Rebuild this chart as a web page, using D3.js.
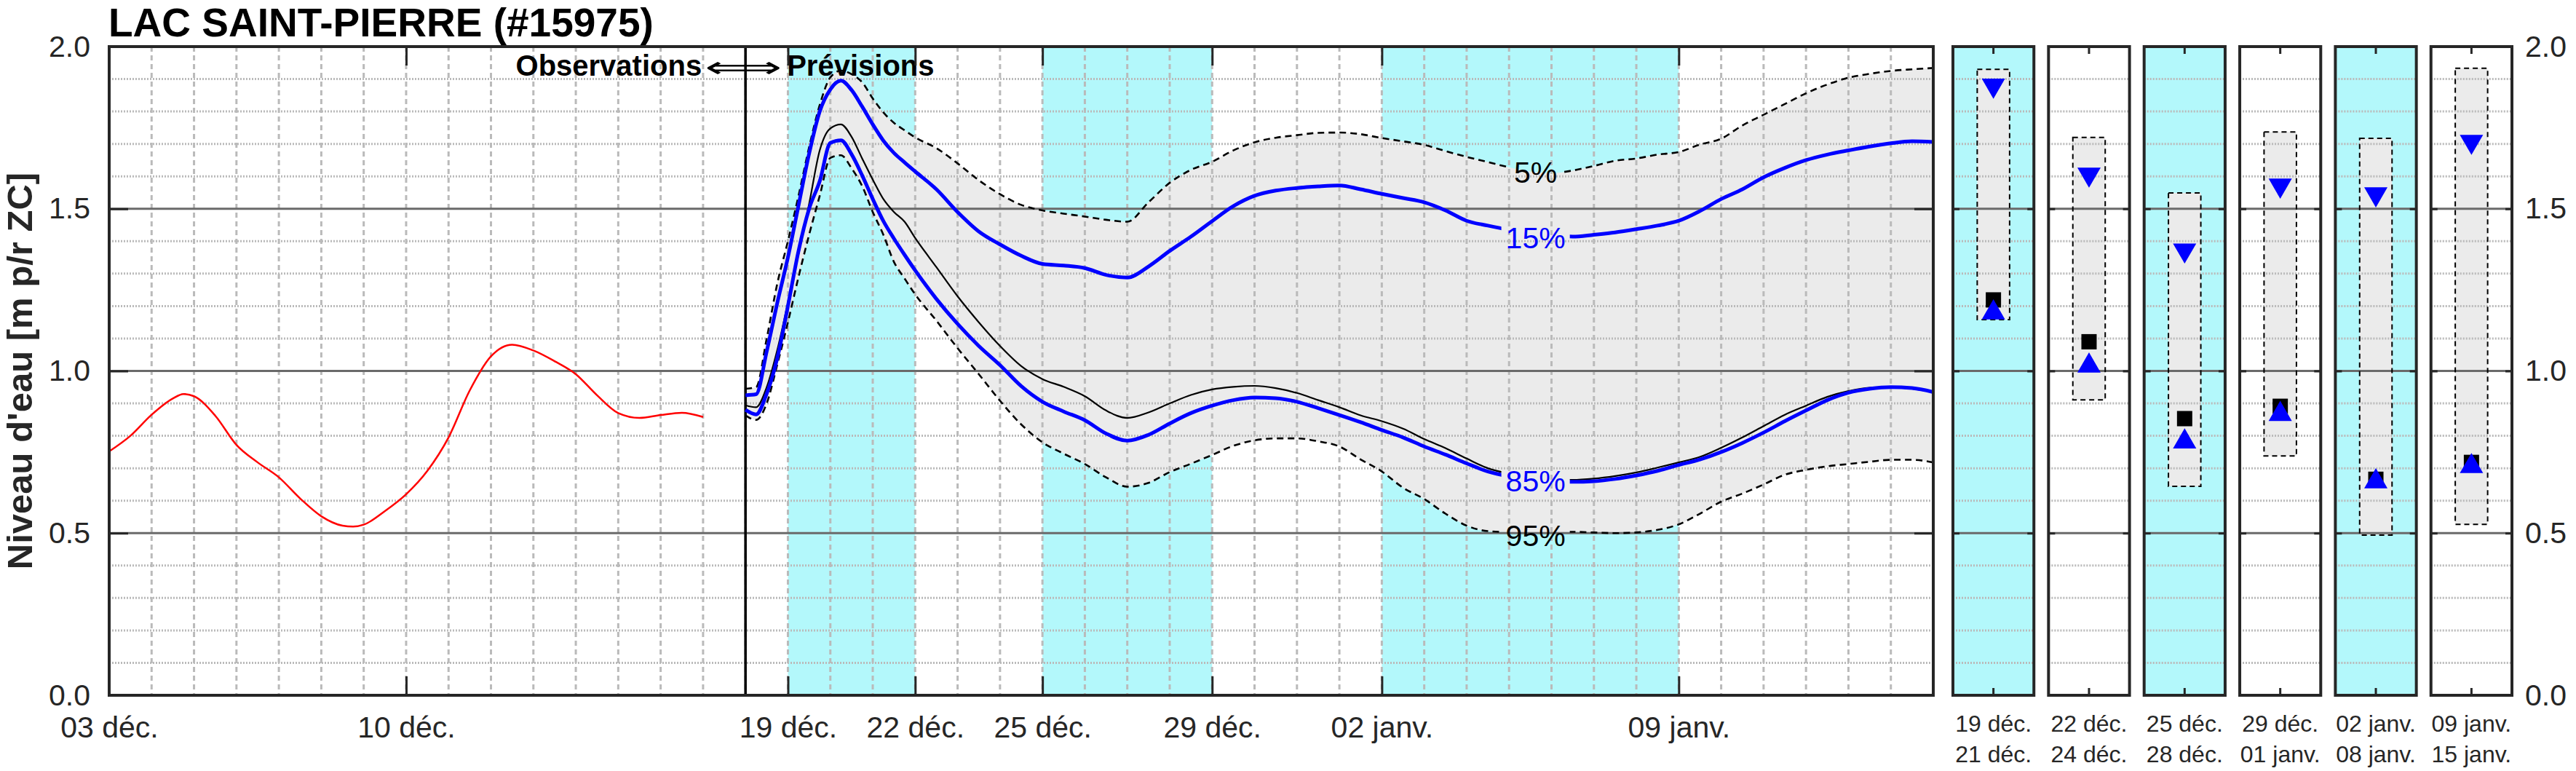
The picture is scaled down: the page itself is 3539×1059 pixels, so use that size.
<!DOCTYPE html>
<html>
<head>
<meta charset="utf-8">
<script src="https://cdn.jsdelivr.net/npm/d3@7/dist/d3.min.js"></script>
<style>
html,body{margin:0;padding:0;background:#fff;}
svg{display:block;font-family:"Liberation Sans",Arial,Helvetica,sans-serif;}
</style>
</head>
<body>
<svg id="chart" width="3539" height="1059"></svg>
<script>
// ---------------- DATA ----------------
const chartTitle = "LAC SAINT-PIERRE (#15975)";
const yAxisTitle = "Niveau d'eau [m p/r ZC]";
const obsLabel = "Observations";
const fcstLabel = "Prévisions";
const arrowGlyph = "⟺";

const obsTimes = ["2023-12-03T00","2023-12-03T12","2023-12-04T00","2023-12-04T12","2023-12-04T18",
  "2023-12-05T00","2023-12-05T12","2023-12-06T00","2023-12-06T12","2023-12-07T00","2023-12-07T12",
  "2023-12-08T00","2023-12-08T12","2023-12-08T18","2023-12-09T00","2023-12-09T12","2023-12-10T00",
  "2023-12-10T12","2023-12-11T00","2023-12-11T12","2023-12-12T00","2023-12-12T12","2023-12-13T00",
  "2023-12-13T12","2023-12-14T00","2023-12-14T12","2023-12-15T00","2023-12-15T12","2023-12-16T00",
  "2023-12-16T12","2023-12-17T00"];
const obsLevels = [0.752,0.800,0.865,0.915,0.929,
  0.922,0.862,0.772,0.718,0.672,0.607,
  0.552,0.523,0.520,0.526,0.568,0.620,
  0.692,0.795,0.940,1.045,1.081,1.063,
  1.030,0.990,0.925,0.870,0.855,0.864,
  0.871,0.858];

const forecastStart = "2023-12-18T00";
const fcTimes = ["2023-12-18T00","2023-12-18T06","2023-12-18T12","2023-12-18T18",
  "2023-12-19T00","2023-12-19T06","2023-12-19T12","2023-12-19T18",
  "2023-12-20T00","2023-12-20T06","2023-12-20T12","2023-12-20T18",
  "2023-12-21T00","2023-12-21T06","2023-12-21T12","2023-12-21T18",
  "2023-12-22T00","2023-12-22T12","2023-12-23T00","2023-12-23T12","2023-12-24T00","2023-12-24T12",
  "2023-12-25T00","2023-12-25T12","2023-12-26T00","2023-12-26T12","2023-12-27T00","2023-12-27T12",
  "2023-12-28T00","2023-12-28T12","2023-12-29T00","2023-12-29T12","2023-12-30T00","2023-12-30T12",
  "2023-12-31T00","2023-12-31T12","2024-01-01T00","2024-01-01T12","2024-01-02T00","2024-01-02T12",
  "2024-01-03T00","2024-01-03T12","2024-01-04T00","2024-01-04T12","2024-01-05T00","2024-01-05T12",
  "2024-01-06T00","2024-01-06T12","2024-01-07T00","2024-01-07T12","2024-01-08T00","2024-01-08T12",
  "2024-01-09T00","2024-01-09T12","2024-01-10T00","2024-01-10T12","2024-01-11T00","2024-01-11T12",
  "2024-01-12T00","2024-01-12T12","2024-01-13T00","2024-01-13T12","2024-01-14T00","2024-01-14T12",
  "2024-01-15T00"];
const q05 = [0.945,0.950,1.100,1.270, 1.400,1.540,1.690,1.820, 1.905,1.926,1.915,1.890, 1.840,1.797,1.765,1.742,
  1.720,1.687,1.640,1.588,1.545,1.512,1.495,1.485,1.476,1.466,1.460,1.520,1.580,1.620,1.645,1.680,
  1.705,1.719,1.727,1.734,1.735,1.730,1.718,1.708,1.697,1.678,1.660,1.644,1.628,1.615,1.610,1.618,
  1.632,1.648,1.655,1.667,1.675,1.698,1.716,1.757,1.790,1.823,1.856,1.883,1.904,1.916,1.925,1.930,1.934];
const q15 = [0.925,0.928,1.060,1.210, 1.350,1.510,1.670,1.800, 1.868,1.895,1.866,1.815, 1.760,1.710,1.672,1.643,
  1.615,1.560,1.490,1.430,1.390,1.355,1.330,1.325,1.317,1.296,1.288,1.322,1.370,1.414,1.462,1.508,
  1.540,1.556,1.564,1.569,1.572,1.560,1.546,1.533,1.520,1.495,1.463,1.448,1.435,1.425,1.418,1.414,
  1.420,1.427,1.437,1.448,1.463,1.493,1.530,1.560,1.597,1.626,1.650,1.667,1.680,1.692,1.702,1.708,1.706];
const q50 = [0.894,0.888,0.950,1.065, 1.210,1.360,1.515,1.680, 1.748,1.760,1.722,1.655, 1.590,1.530,1.490,1.460,
  1.410,1.320,1.230,1.150,1.077,1.015,0.975,0.951,0.922,0.878,0.855,0.872,0.900,0.926,0.943,0.951,
  0.954,0.947,0.932,0.910,0.888,0.863,0.845,0.822,0.790,0.762,0.730,0.700,0.683,0.670,0.665,0.664,
  0.668,0.676,0.687,0.702,0.718,0.735,0.763,0.795,0.830,0.865,0.893,0.920,0.938,0.948,0.950,0.945,0.935];
const q85 = [0.880,0.866,0.930,1.040, 1.200,1.370,1.500,1.585, 1.703,1.711,1.668,1.603, 1.530,1.462,1.408,1.358,
  1.310,1.222,1.145,1.077,1.018,0.953,0.905,0.875,0.848,0.807,0.785,0.803,0.838,0.870,0.893,0.910,
  0.918,0.916,0.905,0.885,0.864,0.842,0.818,0.795,0.767,0.742,0.715,0.690,0.675,0.665,0.660,0.658,
  0.660,0.667,0.678,0.692,0.710,0.727,0.750,0.778,0.810,0.845,0.878,0.910,0.933,0.945,0.950,0.947,0.935];
const q95 = [0.863,0.849,0.900,1.020, 1.150,1.290,1.420,1.540, 1.657,1.665,1.625,1.570, 1.490,1.420,1.336,1.285,
  1.236,1.155,1.070,0.990,0.908,0.835,0.780,0.745,0.713,0.672,0.643,0.655,0.688,0.714,0.741,0.769,
  0.786,0.792,0.792,0.783,0.767,0.727,0.690,0.640,0.605,0.560,0.523,0.506,0.503,0.502,0.502,0.504,
  0.502,0.500,0.502,0.510,0.527,0.560,0.597,0.622,0.650,0.680,0.695,0.706,0.713,0.720,0.726,0.726,0.718];

const pctLabels = ["5%", "15%", "85%", "95%"];
const pctLabelValues = [1.614, 1.412, 0.662, 0.494];
const pctLabelColors = ["#000000", "#0000ff", "#0000ff", "#000000"];
const pctLabelTime = "2024-01-05T15";

const shadedStarts = ["2023-12-19T00", "2023-12-25T00", "2024-01-02T00"];
const shadedEnds   = ["2023-12-22T00", "2023-12-29T00", "2024-01-09T00"];

const xTickTimes = ["2023-12-03T00","2023-12-10T00","2023-12-19T00","2023-12-22T00",
  "2023-12-25T00","2023-12-29T00","2024-01-02T00","2024-01-09T00"];
const xTickLabels = ["03 déc.","10 déc.","19 déc.","22 déc.","25 déc.","29 déc.","02 janv.","09 janv."];
const yTickValues = [0, 0.5, 1.0, 1.5, 2.0];
const yMajorGrid = [0.5, 1.0, 1.5];
const yMinorGrid = [0.1,0.2,0.3,0.4,0.6,0.7,0.8,0.9,1.1,1.2,1.3,1.4,1.6,1.7,1.8,1.9];

const periodFrom = ["19 déc.","22 déc.","25 déc.","29 déc.","02 janv.","09 janv."];
const periodTo   = ["21 déc.","24 déc.","28 déc.","01 janv.","08 janv.","15 janv."];
const periodShaded = [true,false,true,false,true,false];
const periodQ05 = [1.930, 1.720, 1.549, 1.737, 1.717, 1.933];
const periodQ95 = [1.158, 0.911, 0.644, 0.738, 0.494, 0.527];
const periodQ15 = [1.870, 1.596, 1.362, 1.562, 1.535, 1.697];
const periodQ50 = [1.219, 1.090, 0.853, 0.891, 0.666, 0.718];
const periodQ85 = [1.190, 1.026, 0.792, 0.877, 0.669, 0.716];

// ---------------- LAYOUT / STYLE ----------------
const W = 3539, H = 1059;
const M = {left:150, right:2656, top:64, bottom:955};
const P = {left:2683, right:3451};
const CYAN = "#b3f8fb", FILL = "#ebebeb", AX = "#262626";
const GRID = "#bababa", MAJ = "#6a6a6a", BLUE = "#0000ff";
const FS_TICK = 41;

const parse = d3.timeParse("%Y-%m-%dT%H");
const svg = d3.select("#chart");

const x = d3.scaleTime()
  .domain([parse("2023-12-03T00"), parse("2024-01-15T00")])
  .range([M.left, M.right]);
const y = d3.scaleLinear().domain([0, 2]).range([M.bottom, M.top]);

const defs = svg.append("defs");
defs.append("clipPath").attr("id","mainClip").append("rect")
  .attr("x", M.left).attr("y", M.top).attr("width", M.right-M.left).attr("height", M.bottom-M.top);
const mask = defs.append("mask").attr("id","lblMask").attr("maskUnits","userSpaceOnUse")
  .attr("x",0).attr("y",0).attr("width",W).attr("height",H);
mask.append("rect").attr("x",0).attr("y",0).attr("width",W).attr("height",H).attr("fill","#fff");

// ---------- MAIN PLOT ----------
const main = svg.append("g").attr("clip-path","url(#mainClip)");

// cyan bands
main.selectAll("rect.band").data(shadedStarts).join("rect")
  .attr("x", (d)=>x(parse(d)))
  .attr("width", (d,i)=>x(parse(shadedEnds[i]))-x(parse(d)))
  .attr("y", M.top).attr("height", M.bottom-M.top).attr("fill", CYAN);

// forecast data rows
const fc = fcTimes.map((t,i)=>({t:parse(t), q05:q05[i], q15:q15[i], q50:q50[i], q85:q85[i], q95:q95[i]}));

// grey envelope
main.append("path").datum(fc)
  .attr("d", d3.area().curve(d3.curveMonotoneX)
    .x(d=>x(d.t)).y0(d=>y(d.q95)).y1(d=>y(d.q05)))
  .attr("fill", FILL);

// grid: minor horizontal dotted
main.selectAll("line.hmin").data(yMinorGrid).join("line")
  .attr("x1", M.left).attr("x2", M.right).attr("y1", d=>y(d)).attr("y2", d=>y(d))
  .attr("stroke", GRID).attr("stroke-width", 3).attr("stroke-dasharray","2,2");
// grid: daily vertical dashed
const days = d3.timeDay.range(parse("2023-12-04T00"), parse("2024-01-15T00"));
main.selectAll("line.vmin").data(days).join("line")
  .attr("x1", d=>x(d)).attr("x2", d=>x(d)).attr("y1", M.top).attr("y2", M.bottom)
  .attr("stroke", GRID).attr("stroke-width", 3).attr("stroke-dasharray","7,5");
// grid: major horizontal
main.selectAll("line.hmaj").data(yMajorGrid).join("line")
  .attr("x1", M.left).attr("x2", M.right).attr("y1", d=>y(d)).attr("y2", d=>y(d))
  .attr("stroke", MAJ).attr("stroke-width", 3);

// observations
const obs = obsTimes.map((t,i)=>({t:parse(t), v:obsLevels[i]}));
main.append("path").datum(obs)
  .attr("d", d3.line().curve(d3.curveMonotoneX).x(d=>x(d.t)).y(d=>y(d.v)))
  .attr("fill","none").attr("stroke","#ff0000").attr("stroke-width",2.5);

// separator
main.append("line")
  .attr("x1", x(parse(forecastStart))).attr("x2", x(parse(forecastStart)))
  .attr("y1", M.top).attr("y2", M.bottom).attr("stroke", "#000").attr("stroke-width", 3.5);

// forecast lines (masked around labels)
const lines = main.append("g").attr("mask","url(#lblMask)");
const lineGen = key => d3.line().curve(d3.curveMonotoneX).x(d=>x(d.t)).y(d=>y(d[key]));
[["q05","#000",2.6,"9,6"],["q95","#000",2.6,"9,6"],["q50","#000",2.2,null],
 ["q85",BLUE,5,null],["q15",BLUE,5,null]].forEach(([k,c,w,da])=>{
  const p = lines.append("path").datum(fc).attr("d", lineGen(k))
    .attr("fill","none").attr("stroke",c).attr("stroke-width",w).attr("stroke-linejoin","round");
  if (da) p.attr("stroke-dasharray", da);
});

// percentile labels
const lblG = svg.append("g");
pctLabels.forEach((s,i)=>{
  const t = lblG.append("text")
    .attr("x", x(parse(pctLabelTime))).attr("y", y(pctLabelValues[i]))
    .attr("dy","0.36em").attr("text-anchor","middle")
    .attr("font-size", 41).attr("fill", pctLabelColors[i]).text(s);
  const b = t.node().getBBox();
  mask.append("rect").attr("x", b.x-6).attr("y", b.y+2).attr("width", b.width+12).attr("height", b.height-4).attr("fill","#000");
});

// Observations <=> Prévisions
const xs = x(parse(forecastStart));
svg.append("text").attr("x", xs-60).attr("y", 104).attr("text-anchor","end")
  .attr("font-size",40).attr("font-weight","bold").attr("fill","#000").text(obsLabel);
svg.append("text").attr("x", xs+57).attr("y", 104).attr("text-anchor","start")
  .attr("font-size",40).attr("font-weight","bold").attr("fill","#000").text(fcstLabel);
svg.append("text").attr("x", xs-56).attr("y", 106)
  .attr("textLength", 106).attr("lengthAdjust","spacingAndGlyphs")
  .attr("font-family","DejaVu Sans").attr("font-size",40).attr("fill","#000").text(arrowGlyph);

// axes main
function styleAxis(g){
  g.select(".domain").remove();
  g.selectAll(".tick line").attr("stroke", AX).attr("stroke-width", 3);
  g.selectAll(".tick text").attr("fill", AX).attr("font-size", FS_TICK)
    .attr("font-family", "'Liberation Sans',Arial,sans-serif");
}
const tickDates = xTickTimes.map(parse);
svg.append("g").attr("transform",`translate(0,${M.bottom})`)
  .call(d3.axisBottom(x).tickValues(tickDates).tickFormat((d,i)=>xTickLabels[i])
    .tickSizeInner(-26).tickSizeOuter(0).tickPadding(29)).call(styleAxis);
svg.append("g").attr("transform",`translate(0,${M.top})`)
  .call(d3.axisTop(x).tickValues(tickDates).tickFormat("")
    .tickSizeInner(-26).tickSizeOuter(0)).call(styleAxis);
svg.append("g").attr("transform",`translate(${M.left},0)`)
  .call(d3.axisLeft(y).tickValues(yTickValues).tickFormat(d3.format(".1f"))
    .tickSizeInner(-26).tickSizeOuter(0).tickPadding(26)).call(styleAxis);
svg.append("g").attr("transform",`translate(${M.right},0)`)
  .call(d3.axisRight(y).tickValues(yTickValues).tickFormat("")
    .tickSizeInner(-26).tickSizeOuter(0)).call(styleAxis);
svg.append("rect").attr("x", M.left).attr("y", M.top)
  .attr("width", M.right-M.left).attr("height", M.bottom-M.top)
  .attr("fill","none").attr("stroke", AX).attr("stroke-width", 4);

// ---------- SMALL PANELS ----------
const band = d3.scaleBand().domain(d3.range(periodFrom.length))
  .range([P.left, P.right]).paddingInner(0.153).paddingOuter(0);
const bw = band.bandwidth();
const boxW = bw*0.4;

periodFrom.forEach((lab,i)=>{
  const g = svg.append("g");
  const x0 = band(i), cx = x0 + bw/2;
  g.append("rect").attr("x",x0).attr("y",M.top).attr("width",bw).attr("height",M.bottom-M.top)
    .attr("fill", periodShaded[i] ? CYAN : "#fff");
  // box 5%-95%
  g.append("rect").attr("x", cx-boxW/2).attr("width", boxW)
    .attr("y", y(periodQ05[i])).attr("height", y(periodQ95[i])-y(periodQ05[i]))
    .attr("fill", FILL);
  // grid
  g.selectAll("line.hmin").data(yMinorGrid).join("line")
    .attr("x1", x0).attr("x2", x0+bw).attr("y1", d=>y(d)).attr("y2", d=>y(d))
    .attr("stroke", GRID).attr("stroke-width", 3).attr("stroke-dasharray","2,2");
  g.selectAll("line.hmaj").data(yMajorGrid).join("line")
    .attr("x1", x0).attr("x2", x0+bw).attr("y1", d=>y(d)).attr("y2", d=>y(d))
    .attr("stroke", MAJ).attr("stroke-width", 3);
  g.append("rect").attr("x", cx-boxW/2).attr("width", boxW)
    .attr("y", y(periodQ05[i])).attr("height", y(periodQ95[i])-y(periodQ05[i]))
    .attr("fill", "none").attr("stroke","#000").attr("stroke-width",2).attr("stroke-dasharray","7,5");
  // markers
  const triSize = 443, triOff = 4.6;
  g.append("path").attr("d", d3.symbol(d3.symbolTriangle, triSize)())
    .attr("transform", `translate(${cx},${y(periodQ15[i]) - triOff}) rotate(180)`).attr("fill", BLUE);
  g.append("path").attr("d", d3.symbol(d3.symbolSquare, 441)())
    .attr("transform", `translate(${cx},${y(periodQ50[i])})`).attr("fill", "#000");
  g.append("path").attr("d", d3.symbol(d3.symbolTriangle, triSize)())
    .attr("transform", `translate(${cx},${y(periodQ85[i]) + triOff})`).attr("fill", BLUE);
  // y ticks both sides
  g.append("g").attr("transform",`translate(${x0},0)`)
    .call(d3.axisLeft(y).tickValues(yTickValues).tickFormat("").tickSizeInner(-9).tickSizeOuter(0)).call(styleAxis);
  const rightAx = d3.axisRight(y).tickValues(yTickValues).tickSizeInner(-9).tickSizeOuter(0);
  if (i === periodFrom.length-1) rightAx.tickFormat(d3.format(".1f")).tickPadding(18);
  else rightAx.tickFormat("");
  g.append("g").attr("transform",`translate(${x0+bw},0)`).call(rightAx).call(styleAxis);
  g.append("rect").attr("x",x0).attr("y",M.top).attr("width",bw).attr("height",M.bottom-M.top)
    .attr("fill","none").attr("stroke",AX).attr("stroke-width",4);
  // period labels
  g.append("text").attr("x", cx).attr("y", 1005).attr("text-anchor","middle")
    .attr("font-size",32).attr("fill",AX).text(lab);
  g.append("text").attr("x", cx).attr("y", 1047).attr("text-anchor","middle")
    .attr("font-size",32).attr("fill",AX).text(periodTo[i]);
});
// panel x ticks (centre, top and bottom)
svg.append("g").attr("transform",`translate(0,${M.bottom})`)
  .call(d3.axisBottom(band).tickFormat("").tickSizeInner(-10).tickSizeOuter(0)).call(styleAxis);
svg.append("g").attr("transform",`translate(0,${M.top})`)
  .call(d3.axisTop(band).tickFormat("").tickSizeInner(-10).tickSizeOuter(0)).call(styleAxis);

// ---------- TITLES ----------
svg.append("text").attr("x", 149).attr("y", 50).attr("font-size", 55).attr("font-weight","bold")
  .attr("fill","#000").text(chartTitle);
svg.append("text").attr("transform", `translate(44,${(M.top+M.bottom)/2}) rotate(-90)`)
  .attr("text-anchor","middle").attr("font-size",49).attr("font-weight","bold")
  .attr("fill", AX).text(yAxisTitle);
</script>
</body>
</html>
